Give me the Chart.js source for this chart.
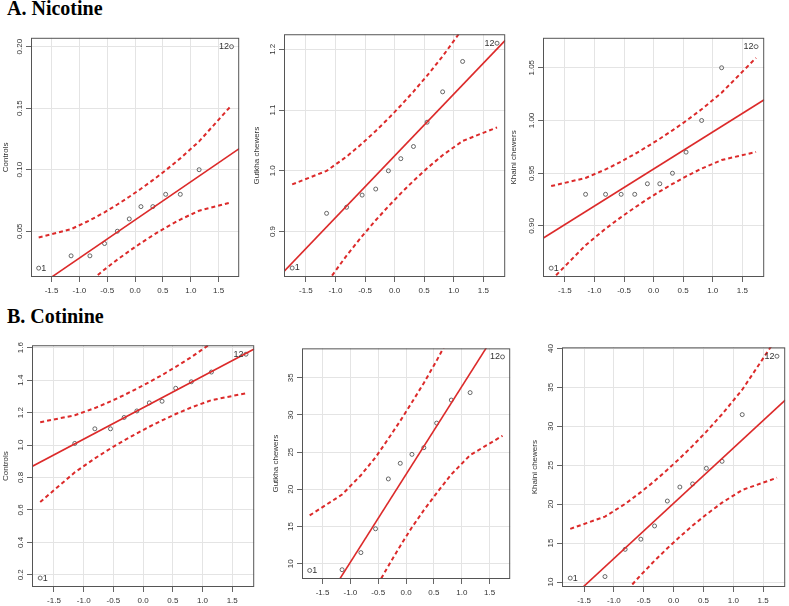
<!DOCTYPE html>
<html>
<head>
<meta charset="utf-8">
<script src="https://cdn.jsdelivr.net/npm/chart.js@4.4.1/dist/chart.umd.min.js"></script>
<style>
  html, body { margin:0; padding:0; background:#fff; overflow:hidden; }
  body { width:789px; height:606px; position:relative; }
  .head { position:absolute; left:7px; font:bold 20px "Liberation Serif","Times New Roman",serif; line-height:20px; color:#000; white-space:nowrap; }
  canvas { position:absolute; }
</style>
</head>
<body>
<div class="head" style="top:-2px">A. Nicotine</div>
<div class="head" style="top:306px">B. Cotinine</div>
<script>
// normal quantiles for n = 12
const zQuant = [-1.732, -1.150, -0.812, -0.549, -0.319, -0.105, 0.105, 0.319, 0.549, 0.812, 1.150, 1.732];
const xTicks = [-1.5, -1.0, -0.5, 0.0, 0.5, 1.0, 1.5];
const xTickLabels = ['-1.5', '-1.0', '-0.5', '0.0', '0.5', '1.0', '1.5'];

// A. Nicotine - Controls
const nicControls      = [0.02, 0.03, 0.03, 0.04, 0.05, 0.06, 0.07, 0.07, 0.08, 0.08, 0.10, 0.20];
const nicControlsUpper = [0.0449, 0.0517, 0.0589, 0.0654, 0.0717, 0.0780, 0.0845, 0.0915, 0.0995, 0.1092, 0.1230, 0.1523];
const nicControlsLower = [-0.0339, -0.0046, 0.0092, 0.0189, 0.0269, 0.0339, 0.0404, 0.0467, 0.0530, 0.0595, 0.0667, 0.0735];
const nicControlsFit   = [0.0592, 0.031]; // intercept, slope
const nicControlsTicks = [0.05, 0.10, 0.15, 0.20];
const nicControlsTickLabels = ['0.05', '0.10', '0.15', '0.20'];

// A. Nicotine - Gutkha chewers
const nicGutkha      = [0.84, 0.93, 0.94, 0.96, 0.97, 1.00, 1.02, 1.04, 1.08, 1.13, 1.18, 1.21];
const nicGutkhaUpper = [0.9776, 0.9999, 1.0234, 1.0449, 1.0656, 1.0861, 1.1075, 1.1304, 1.1565, 1.1885, 1.2339, 1.3298];
const nicGutkhaLower = [0.7192, 0.8151, 0.8605, 0.8925, 0.9186, 0.9415, 0.9629, 0.9834, 1.0041, 1.0256, 1.0491, 1.0714];
const nicGutkhaFit   = [1.0245, 0.1017];
const nicGutkhaTicks = [0.9, 1.0, 1.1, 1.2];
const nicGutkhaTickLabels = ['0.9', '1.0', '1.1', '1.2'];

// A. Nicotine - Khaini chewers
const nicKhaini      = [0.86, 0.93, 0.93, 0.93, 0.93, 0.94, 0.94, 0.95, 0.97, 1.00, 1.05, 1.07];
const nicKhainiUpper = [0.9378, 0.9455, 0.9536, 0.9610, 0.9682, 0.9753, 0.9827, 0.9906, 0.9996, 1.0106, 1.0263, 1.0594];
const nicKhainiLower = [0.8486, 0.8817, 0.8974, 0.9084, 0.9174, 0.9254, 0.9328, 0.9398, 0.9470, 0.9544, 0.9625, 0.9702];
const nicKhainiFit   = [0.954, 0.0351];
const nicKhainiTicks = [0.90, 0.95, 1.00, 1.05];
const nicKhainiTickLabels = ['0.90', '0.95', '1.00', '1.05'];

// B. Cotinine - Controls
const cotControls      = [0.18, 1.01, 1.10, 1.10, 1.17, 1.21, 1.26, 1.27, 1.35, 1.39, 1.45, 1.56];
const cotControlsUpper = [1.1406, 1.1833, 1.2279, 1.2688, 1.3081, 1.3473, 1.3879, 1.4317, 1.4814, 1.5423, 1.6285, 1.8112];
const cotControlsLower = [0.6488, 0.8315, 0.9177, 0.9786, 1.0283, 1.0721, 1.1127, 1.1519, 1.1912, 1.2321, 1.2767, 1.3194];
const cotControlsFit   = [1.230, 0.1936];
const cotControlsTicks = [0.2, 0.4, 0.6, 0.8, 1.0, 1.2, 1.4, 1.6];
const cotControlsTickLabels = ['0.2', '0.4', '0.6', '0.8', '1.0', '1.2', '1.4', '1.6'];

// B. Cotinine - Gutkha chewers
const cotGutkha      = [9.1, 9.2, 11.5, 14.7, 21.4, 23.5, 24.7, 25.6, 28.9, 32.0, 33.0, 37.8];
const cotGutkhaUpper = [16.5, 19.3, 21.9, 24.3, 26.8, 29.2, 31.7, 34.3, 37.3, 41.0, 46.3, 57.4];
const cotGutkhaLower = [-13.4, -2.3, 3.0, 6.7, 9.7, 12.4, 14.9, 17.2, 19.5, 22.0, 24.6, 27.2];
const cotGutkhaFit   = [22.02, 11.8];
const cotGutkhaTicks = [10, 15, 20, 25, 30, 35];
const cotGutkhaTickLabels = ['10', '15', '20', '25', '30', '35'];

// B. Cotinine - Khaini chewers
const cotKhaini      = [10.5, 10.7, 14.2, 15.5, 17.2, 20.4, 22.2, 22.6, 24.6, 25.5, 31.5, 39.0];
const cotKhainiUpper = [16.83, 18.40, 20.03, 21.54, 22.97, 24.41, 25.89, 27.49, 29.32, 31.55, 34.70, 41.39];
const cotKhainiLower = [-1.17, 5.52, 8.67, 10.90, 12.73, 14.33, 15.81, 17.25, 18.68, 20.19, 21.82, 23.39];
const cotKhainiFit   = [20.11, 7.09];
const cotKhainiTicks = [10, 15, 20, 25, 30, 35, 40];
const cotKhainiTickLabels = ['10', '15', '20', '25', '30', '35', '40'];

const xMin = -1.87, xMax = 1.87;
const FONT = '"Liberation Sans", Arial, Helvetica, sans-serif';
const RED = '#dc2a2a';

// box = plot frame [left, top, right, bottom] in page px, gap = y title distance from frame
const panels = [
  { box:[31, 37, 242, 277],  gap:25, yLabel:'Controls',       values:nicControls, upper:nicControlsUpper, lower:nicControlsLower, fit:nicControlsFit, yTicks:nicControlsTicks, yTickLabels:nicControlsTickLabels },
  { box:[284, 33, 508, 277], gap:27, yLabel:'Gutkha chewers', values:nicGutkha,   upper:nicGutkhaUpper,   lower:nicGutkhaLower,   fit:nicGutkhaFit,   yTicks:nicGutkhaTicks,   yTickLabels:nicGutkhaTickLabels },
  { box:[543, 37, 767, 277], gap:29, yLabel:'Khaini chewers', values:nicKhaini,   upper:nicKhainiUpper,   lower:nicKhainiLower,   fit:nicKhainiFit,   yTicks:nicKhainiTicks,   yTickLabels:nicKhainiTickLabels },
  { box:[32, 344, 257, 587], gap:26, yLabel:'Controls',       values:cotControls, upper:cotControlsUpper, lower:cotControlsLower, fit:cotControlsFit, yTicks:cotControlsTicks, yTickLabels:cotControlsTickLabels },
  { box:[302, 346, 513, 579],gap:26, yLabel:'Gutkha chewers', values:cotGutkha,   upper:cotGutkhaUpper,   lower:cotGutkhaLower,   fit:cotGutkhaFit,   yTicks:cotGutkhaTicks,   yTickLabels:cotGutkhaTickLabels },
  { box:[562, 345, 788, 587],gap:27, yLabel:'Khaini chewers', values:cotKhaini,   upper:cotKhainiUpper,   lower:cotKhainiLower,   fit:cotKhainiFit,   yTicks:cotKhainiTicks,   yTickLabels:cotKhainiTickLabels }
];

const mctx = document.createElement('canvas').getContext('2d');
mctx.font = '8px ' + FONT;
const measure = s => mctx.measureText(s).width;

// frame around the plot area (R box())
const framePlugin = {
  id: 'frame',
  afterDraw(chart) {
    const { ctx, chartArea: a } = chart;
    ctx.save();
    ctx.strokeStyle = '#555';
    ctx.lineWidth = 1;
    ctx.strokeRect(a.left + 0.5, a.top + 0.5, a.right - a.left - 1, a.bottom - a.top - 1);
    ctx.restore();
  }
};

// id labels for the two extreme points
const idPlugin = {
  id: 'ids',
  afterDatasetsDraw(chart, args, opts) {
    const { ctx, scales: { x, y } } = chart;
    const v = opts.values;
    ctx.save();
    ctx.font = '9px ' + FONT;
    ctx.fillStyle = '#333';
    ctx.textBaseline = 'middle';
    ctx.textAlign = 'left';
    ctx.fillText('1', x.getPixelForValue(zQuant[0]) + 2.5, y.getPixelForValue(v[0]));
    ctx.textAlign = 'right';
    ctx.fillText('12', x.getPixelForValue(zQuant[11]) - 2.5, y.getPixelForValue(v[11]));
    ctx.restore();
  }
};

function makePanel(p) {
  const [l, t, r, b] = p.box;
  const axisW = 34, axisH = 22, padT = 4, padR = 2, tickLen = 5;
  const cv = document.createElement('canvas');
  cv.width = r - l + axisW + padR;
  cv.height = b - t + padT + axisH;
  cv.style.left = (l - axisW) + 'px';
  cv.style.top = (t - padT) + 'px';
  document.body.appendChild(cv);

  const lo = Math.min(...p.values), hi = Math.max(...p.values);
  const yMin = lo - 0.04 * (hi - lo), yMax = hi + 0.04 * (hi - lo);
  const [a, s] = p.fit;
  const pts = arr => zQuant.map((z, i) => ({ x: z, y: arr[i] }));
  const widest = Math.max(...p.yTickLabels.map(measure));
  const envelope = arr => ({
    data: pts(arr), showLine: true, borderColor: RED, borderWidth: 2,
    borderDash: [4, 3], pointRadius: 0, fill: false
  });

  new Chart(cv, {
    type: 'scatter',
    data: {
      datasets: [
        envelope(p.upper),
        envelope(p.lower),
        { data: [xMin, xMax].map(x => ({ x, y: a + s * x })), showLine: true,
          borderColor: RED, borderWidth: 1.6, pointRadius: 0, fill: false },
        { data: pts(p.values), pointRadius: 2, borderWidth: 0.8, borderColor: '#444',
          backgroundColor: 'rgba(0,0,0,0)', pointBorderColor: '#444', pointBackgroundColor: 'rgba(0,0,0,0)' }
      ]
    },
    options: {
      responsive: false,
      animation: false,
      devicePixelRatio: 1,
      events: [],
      layout: { padding: { left: 0, top: padT, right: padR, bottom: 0 } },
      plugins: {
        legend: { display: false },
        tooltip: { enabled: false },
        ids: { values: p.values }
      },
      scales: {
        x: {
          type: 'linear', min: xMin, max: xMax,
          afterBuildTicks: sc => { sc.ticks = xTicks.map(v => ({ value: v })); },
          afterFit: sc => { sc.height = axisH; },
          ticks: { callback: (v, i) => xTickLabels[i], autoSkip: false, maxRotation: 0,
                   font: { size: 8, family: FONT }, color: '#333', padding: 4 },
          grid: { color: '#e4e4e4', tickColor: '#666', tickLength: tickLen },
          border: { display: false }
        },
        y: {
          type: 'linear', min: yMin, max: yMax,
          afterBuildTicks: sc => { sc.ticks = p.yTicks.map(v => ({ value: v })); },
          afterFit: sc => { sc.width = axisW; },
          ticks: { callback: (v, i) => p.yTickLabels[i], autoSkip: false,
                   minRotation: 90, maxRotation: 90, crossAlign: 'center',
                   font: { size: 8, family: FONT }, color: '#333',
                   padding: 11 - tickLen - widest / 2 },
          grid: { color: '#e4e4e4', tickColor: '#666', tickLength: tickLen },
          border: { display: false },
          title: { display: true, text: p.yLabel, color: '#333',
                   font: { size: 8, family: FONT },
                   padding: { top: axisW - p.gap - 4.8, bottom: 0 } }
        }
      }
    },
    plugins: [framePlugin, idPlugin]
  });
}

panels.forEach(makePanel);
</script>
</body>
</html>
